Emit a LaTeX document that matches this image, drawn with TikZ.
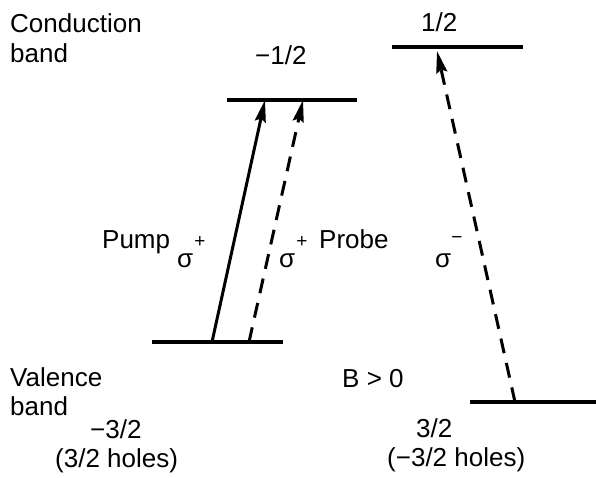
\documentclass[tikz,border=0pt]{standalone}
\usepackage{fontspec}
\setmainfont{Liberation Sans}
\usetikzlibrary{arrows.meta}
\begin{document}
\begin{tikzpicture}[x=1pt,y=-1pt,
  lbl/.style={inner sep=0pt,anchor=base west,font=\fontsize{26}{30}\selectfont},
  sup/.style={inner sep=0pt,anchor=center,font=\fontsize{19}{22}\selectfont},
  level/.style={line width=3.2pt},
  trans/.style={line width=3pt,-{Stealth[length=22pt,width=11pt,inset=3pt]}},
  dsh/.style={dash pattern=on 15pt off 10pt}]
\useasboundingbox (0,0) rectangle (596,478);
% levels
\draw[level] (227,100) -- (357,100);
\draw[level] (152,342) -- (283,342);
\draw[level] (392,47) -- (523,47);
\draw[level] (470,402) -- (596,402);
% arrow endpoints
\coordinate (pumpS) at (212,342);
\coordinate (pumpE) at (265,100);
\coordinate (probS) at (249,342);
\coordinate (probE) at (303,100);
\coordinate (minS) at (515,402);
\coordinate (minE) at (437,51);
\draw[trans] (pumpS) -- (pumpE);
\draw[trans,dsh] (probS) -- (probE);
\draw[trans,dsh] (minS) -- (minE);
% labels
\node[lbl] (cond) at (10,33) {Conduction};
\node[lbl] (cband) at (10,63) {band};
\node[lbl] (m12) at (255,65) {−1/2};
\node[lbl] (p12) at (421,32) {1/2};
\node[lbl] (pump) at (102,248) {Pump};
\node[lbl] (s1) at (177,267) {σ};
\node[sup] (s1p) at (200,242) {+};
\node[lbl] (s2) at (279,267) {σ};
\node[sup] (s2p) at (302,242) {+};
\node[lbl] (probe) at (319,248) {Probe};
\node[lbl] (s3) at (435,267) {σ};
\node[sup] (s3m) at (457,240) {−};
\node[lbl] (val) at (10,386) {Valence};
\node[lbl] (vband) at (10,415) {band};
\node[lbl] (m32) at (90,438) {−3/2};
\node[lbl] (h1) at (55,467) {(3/2 holes)};
\node[lbl] (B) at (342,387) {B > 0};
\node[lbl] (p32) at (416,437) {3/2};
\node[lbl] (h2) at (387,466) {(−3/2 holes)};
\end{tikzpicture}
\end{document}
